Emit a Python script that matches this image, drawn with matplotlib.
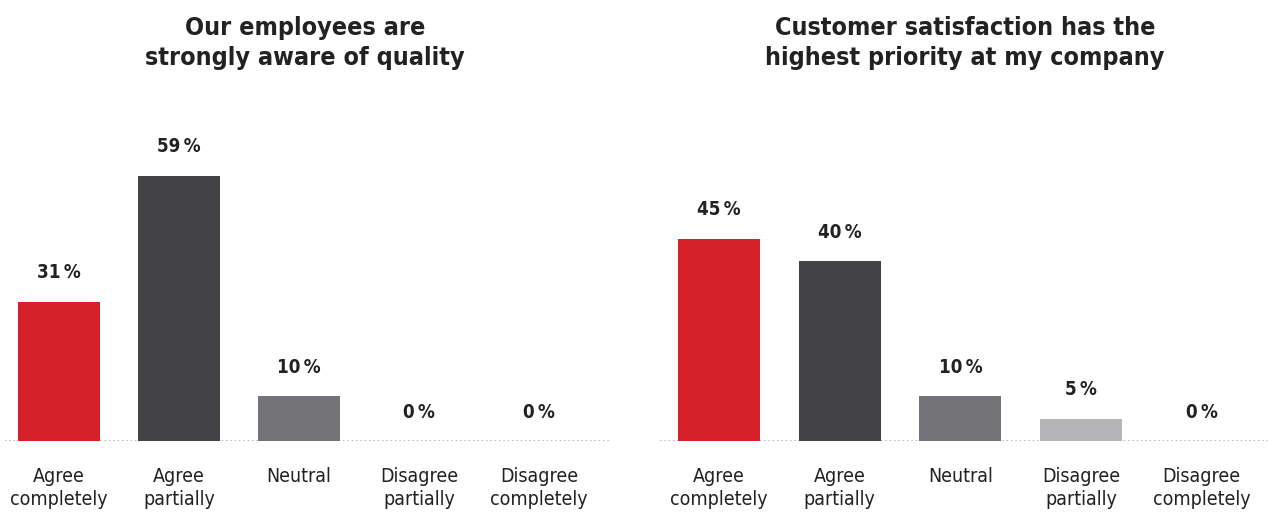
import matplotlib.pyplot as plt
from matplotlib import font_manager

categories = ["Agree\ncompletely", "Agree\npartially", "Neutral",
              "Disagree\npartially", "Disagree\ncompletely"]
employees_quality = [31, 59, 10, 0, 0]
customer_priority = [45, 40, 10, 5, 0]
titles = ["Our employees are\nstrongly aware of quality",
          "Customer satisfaction has the\nhighest priority at my company"]

colors = ["#d52029", "#434247", "#747378", "#b5b4b9", "#d9d9dc"]
TXT = "#222222"

# prefer a condensed face if one is installed
files = [f.fname for f in font_manager.fontManager.ttflist]
cond = [f for f in files if "DejaVuSansCondensed" in f]
STRETCH = "condensed" if cond else "normal"
plt.rcParams["font.family"] = ["DejaVu Sans"]

fig = plt.figure(figsize=(12.68, 5.17), dpi=100)
W, H = 1268, 517

panels = [
    (employees_quality, titles[0], 5, 610, 305, -0.45),
    (customer_priority, titles[1], 660, 1268, 965, -0.49),
]

for vals, title, x0, x1, tx, xl in panels:
    ax = fig.add_axes([x0 / W, (H - 441) / H, (x1 - x0) / W, 341 / H])
    xs = list(range(len(categories)))
    ax.bar(xs, vals, width=0.68, color=colors, zorder=2)
    ax.axhline(0, color="#b0b0b0", lw=1.3, ls=(0, (0.8, 1.6)), zorder=1)
    for x, v in zip(xs, vals):
        ax.annotate(f"{v}\u2009%", (x, v), xytext=(0, 14), textcoords="offset points",
                    ha="center", va="bottom", fontsize=13.5, fontweight="bold",
                    color=TXT, fontstretch=STRETCH)
    ax.set_xlim(xl, xl + 5.04)
    ax.set_ylim(0, 75.8)
    ax.set_xticks(xs)
    ax.set_xticklabels(categories, fontsize=14, color=TXT, linespacing=1.25,
                       fontstretch=STRETCH)
    ax.tick_params(axis="x", length=0, pad=19)
    ax.set_yticks([])
    for s in ax.spines.values():
        s.set_visible(False)
    fig.text(tx / W, 1 - 43 / H, title, ha="center", va="center",
             fontsize=18, fontweight="bold", color=TXT, linespacing=1.3,
             fontstretch=STRETCH)

fig.savefig("out.png", dpi=100)
